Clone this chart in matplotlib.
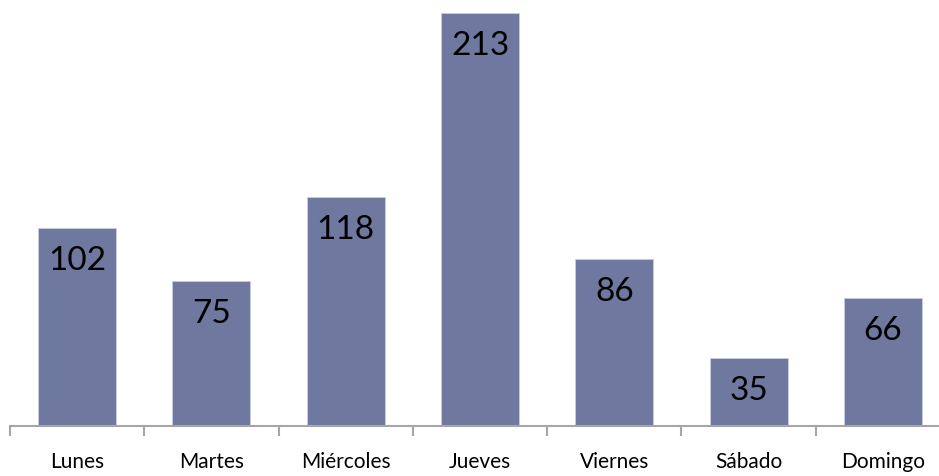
import matplotlib.pyplot as plt

dias = ['Lunes', 'Martes', 'Miércoles', 'Jueves', 'Viernes', 'Sábado', 'Domingo']
valores = [102, 75, 118, 213, 86, 35, 66]

plt.rcParams['font.family'] = ['Lato', 'DejaVu Sans']

fig = plt.figure(figsize=(9.39, 4.77), dpi=100)
# axes run slightly past the right edge, like the original sheet
ax = fig.add_axes([10 / 939, 50 / 477, 940 / 939, 427 / 477])

x = range(len(dias))
bars = ax.bar(x, valores, width=0.58, color='#6f79a0', edgecolor='#c9cde0', linewidth=0.6)

for xi, v in zip(x, valores):
    ax.text(xi, v - 16.5, str(v), ha='center', va='center', fontsize=24, color='black')

ax.set_xlim(-0.5, 6.5)
ax.set_ylim(0, 427 / 1.939)
ax.set_xticks(x)
ax.set_xticklabels(dias, fontsize=15)
ax.set_xticks([i - 0.5 for i in range(8)], minor=True)
ax.tick_params(axis='x', which='major', length=0, pad=18)
ax.tick_params(axis='x', which='minor', length=7, width=1.5, color='#a6a6a6', direction='out')
ax.set_yticks([])
for s in ['top', 'right', 'left']:
    ax.spines[s].set_visible(False)
ax.spines['bottom'].set_color('#a6a6a6')
ax.spines['bottom'].set_linewidth(1.5)

fig.savefig('out.png', dpi=100)
